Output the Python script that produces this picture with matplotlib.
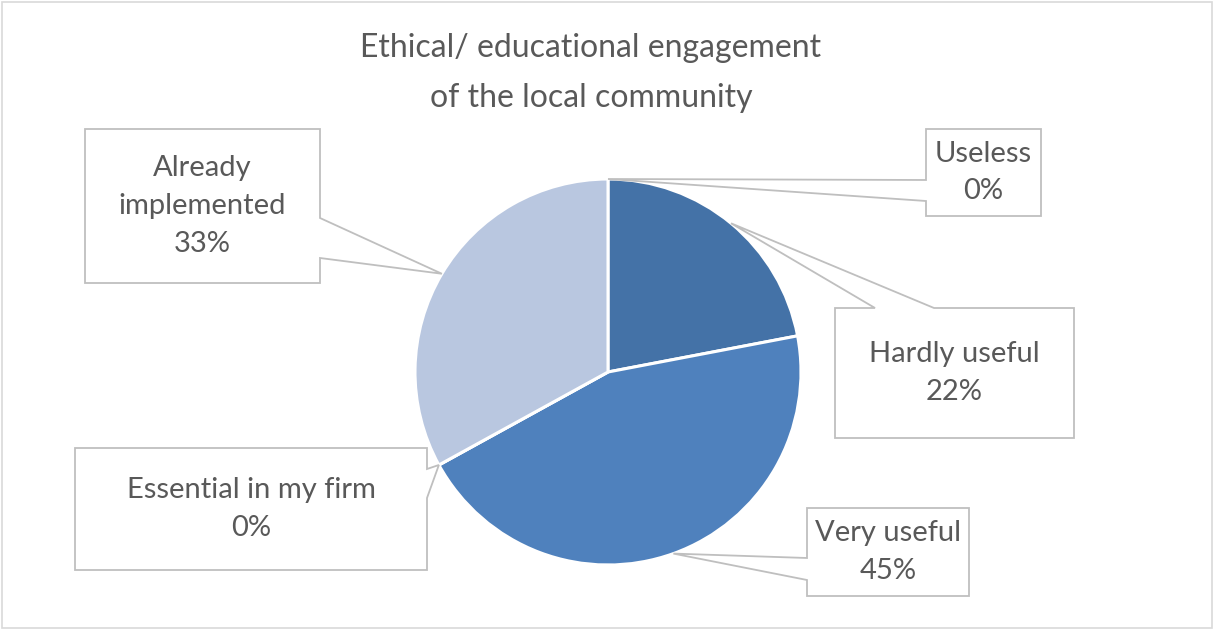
"""
Pie chart of how useful the ethical/educational engagement of the local
community is judged, with Excel-style callout labels.
"""

import numpy as np
import matplotlib.pyplot as plt
from matplotlib.patches import Polygon, Rectangle


# answers (percent of respondents), clockwise from 12 o'clock
categories = ["Useless", "Hardly useful", "Very useful",
              "Essential in my firm", "Already\nimplemented"]
values = [0, 22, 45, 0, 33]
colors = ["#2f5b8c", "#4472a7", "#4f81bd", "#7f9fcf", "#b9c7e0"]

title = "Ethical/ educational engagement\nof the local community"

# canvas in pixels
W, H = 1213, 629
cx, cy, R = 608, 372, 193

# callout boxes: (x0, y0, x1, y1) in pixels from top-left, side the
# pointer leaves from, and the two points on that side
callouts = [
    ((926, 129, 1041, 216), "left", (180, 201)),
    ((835, 308, 1074, 438), "top", (875, 934)),
    ((807, 508, 969, 596), "left", (558, 580)),
    ((75, 448, 427, 570), "right", (469, 498)),
    ((85, 129, 320, 283), "right", (218, 258)),
]

plt.rcParams['font.family'] = ['Lato', 'DejaVu Sans']
txt_color = "#595959"
edge_color = "#bfbfbf"

fig = plt.figure(figsize=(W / 100, H / 100), dpi=100)
ax = fig.add_axes([0, 0, 1, 1])

ax.pie(values, colors=colors, startangle=90, counterclock=False,
       center=(cx, H - cy), radius=R,
       wedgeprops=dict(edgecolor="white", linewidth=2.2))
ax.set_xlim(0, W)
ax.set_ylim(0, H)
ax.set_aspect("equal")
ax.axis("off")

# outer chart border
ax.add_patch(Rectangle((1.5, 1.5), W - 3, H - 3, fill=False,
                       edgecolor="#d9d9d9", linewidth=1.2))

ax.text(591, H - 73, title, ha="center", va="center", fontsize=23,
        color=txt_color, linespacing=1.8)

# pointer tips sit on the rim at the middle of each wedge
total = sum(values)
cum = np.cumsum([0] + values[:-1])
for i, (name, v) in enumerate(zip(categories, values)):
    mid = np.deg2rad(90 - 360 * (cum[i] + v / 2) / total)
    tip = (cx + R * np.cos(mid), H - (cy - R * np.sin(mid)))

    (x0, y0, x1, y1), side, (a, b) = callouts[i]
    X0, X1 = x0, x1
    Y0, Y1 = H - y0, H - y1   # top, bottom in axes coords
    if side == "left":
        pts = [(X0, Y0), (X1, Y0), (X1, Y1), (X0, Y1),
               (X0, H - b), tip, (X0, H - a)]
    elif side == "right":
        pts = [(X0, Y0), (X1, Y0), (X1, H - a), tip, (X1, H - b),
               (X1, Y1), (X0, Y1)]
    else:  # top
        pts = [(X0, Y0), (a, Y0), tip, (b, Y0), (X1, Y0),
               (X1, Y1), (X0, Y1)]
    ax.add_patch(Polygon(pts, closed=True, facecolor="white",
                         edgecolor=edge_color, linewidth=1.3, zorder=3))
    ax.text((X0 + X1) / 2, (Y0 + Y1) / 2, f"{name}\n{v}%",
            ha="center", va="center", fontsize=21, color=txt_color,
            linespacing=1.55, zorder=4)

fig.savefig("out.png", dpi=100)
plt.close(fig)
